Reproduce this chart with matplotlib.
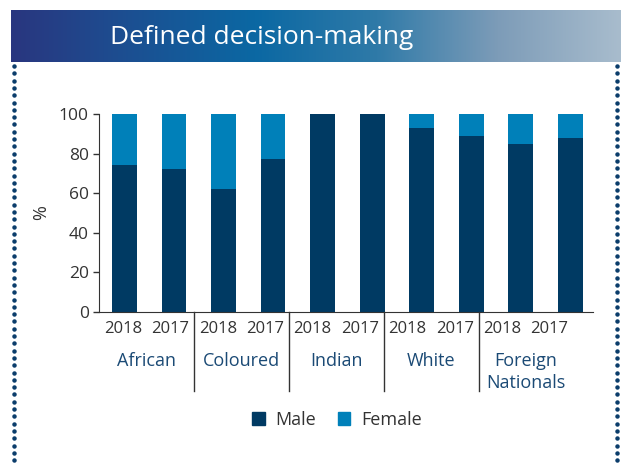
import numpy as np
import matplotlib.pyplot as plt
from matplotlib.colors import LinearSegmentedColormap
from matplotlib.patches import Patch

# chart values (percent of defined decision-making)
groups = ['African', 'Coloured', 'Indian', 'White', 'Foreign\nNationals']
years = ['2018', '2017']
male = [74, 72, 62, 77, 100, 100, 93, 89, 85, 88]
female = [26, 28, 38, 23, 0, 0, 7, 11, 15, 12]

navy = '#003a63'
blue = '#0080b9'
label_blue = '#1b4a75'
grey = '#333333'

plt.rcParams['font.family'] = ['Open Sans', 'DejaVu Sans']

fig = plt.figure(figsize=(6.21, 4.63), dpi=100)

# header banner with a gradient
ban = fig.add_axes([11 / 621, 1 - 62 / 463, 610 / 621, 52 / 463])
cmap = LinearSegmentedColormap.from_list('banner', [
    (0.0, '#29367f'), (0.15, '#1f4a8e'), (0.4, '#0b68a3'),
    (0.6, '#2f7aa8'), (0.8, '#7d9cb8'), (1.0, '#a8bccd')])
grad = np.linspace(0, 1, 256).reshape(1, -1)
ban.imshow(grad, aspect='auto', cmap=cmap, extent=[0, 1, 0, 1])
ban.set_xlim(0, 1)
ban.set_ylim(0, 1)
ban.axis('off')
fig.text(262 / 621, 1 - 37 / 463, 'Defined decision-making', color='white',
         fontsize=19, ha='center', va='center')

# dotted side borders
dots_y = np.arange(66, 463, 7.3)
for xd in (14, 617):
    fig.add_artist(plt.Line2D([xd / 621] * len(dots_y), 1 - dots_y / 463,
                              ls='none', marker='o', ms=2.2, color='#0b3d6b'))

ax = fig.add_axes([99.3 / 621, 1 - 311.7 / 463, 493.7 / 621, 197.7 / 463])
x = np.arange(len(male))
ax.bar(x, male, width=0.5, color=navy, label='Male')
ax.bar(x, female, width=0.5, bottom=male, color=blue, label='Female')
ax.set_xlim(-0.51, 9.46)
ax.set_ylim(0, 100)
ax.set_yticks([0, 20, 40, 60, 80, 100])
ax.tick_params(axis='y', labelsize=12.5, colors=grey, length=4, width=1)
ax.tick_params(axis='x', bottom=False, labelbottom=False)
for s in ('top', 'right'):
    ax.spines[s].set_visible(False)
ax.spines['left'].set_color(grey)
ax.spines['bottom'].set_color(grey)
ax.set_ylabel('%', fontsize=13, color=grey, labelpad=6)

# category labels below axis (axes fraction coordinates)
slot = 47.4 / 493.7
for i in range(len(male)):
    ax.text((i + 0.5) * slot, -0.085, years[i % 2], transform=ax.transAxes,
            ha='center', va='center', fontsize=12, color=grey)
for g, name in enumerate(groups):
    for j, line in enumerate(name.split('\n')):
        ax.text((2 * g + 1) * slot, -0.25 - 0.11 * j, line, transform=ax.transAxes,
                ha='center', va='center', fontsize=13, color=label_blue)
for k in range(1, 5):
    ax.plot([2 * k * slot] * 2, [0, -0.4], transform=ax.transAxes,
            color=grey, lw=1, clip_on=False)

handles = [Patch(color=navy, label='Male'), Patch(color=blue, label='Female')]
fig.legend(handles=handles, loc='center', bbox_to_anchor=(337 / 621, 1 - 420 / 463),
           ncol=2, frameon=False, fontsize=13, handlelength=0.7, handleheight=0.7,
           columnspacing=1.2, handletextpad=0.6, labelcolor=grey)

fig.savefig('out.png', dpi=100)
